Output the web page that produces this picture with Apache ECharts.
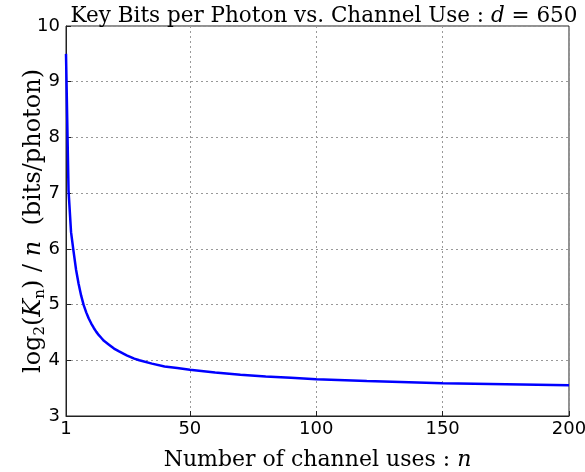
<!DOCTYPE html>
<html>
<head>
<meta charset="utf-8">
<script src="https://cdn.jsdelivr.net/npm/echarts@6/dist/echarts.min.js"></script>
<style>
html,body{margin:0;padding:0;background:#fff;}
#chart{width:585px;height:472px;}
</style>
</head>
<body>
<div id="chart"></div>
<script>
// Channel uses n (x values)
var channelUses = [1, 2, 3, 4, 5, 6, 7, 8, 9, 10, 11, 12, 13, 14, 15, 16, 18, 20, 22, 25, 28, 30, 35, 40, 45, 50, 60, 70, 80, 90, 100, 120, 150, 175, 200];
// log2(K_n)/n in bits/photon
var bitsPerPhoton = [9.50, 7.05, 6.30, 5.95, 5.62, 5.37, 5.16, 4.99, 4.86, 4.75, 4.66, 4.58, 4.51, 4.45, 4.40, 4.35, 4.28, 4.21, 4.16, 4.09, 4.03, 4.00, 3.94, 3.89, 3.86, 3.83, 3.78, 3.74, 3.71, 3.685, 3.66, 3.63, 3.59, 3.57, 3.55];
var xTicks = [1, 50, 100, 150, 200];
var yTicks = [3, 4, 5, 6, 7, 8, 9, 10];

var seriesData = channelUses.map(function (n, i) { return [n, bitsPerPhoton[i]]; });

var chart = echarts.init(document.getElementById('chart'), null, {renderer: 'canvas'});
var serif = 'DejaVu Serif';
var sans = 'DejaVu Sans';
chart.setOption({
  backgroundColor: '#fff',
  animation: false,
  title: {
    text: '{r|Key Bits per Photon vs. Channel Use : }{i|d}{r| = 650}',
    left: 319,
    textAlign: 'center',
    top: 0,
    textStyle: {
      fontWeight: 'normal',
      rich: {
        r: {fontFamily: serif, fontSize: 21.5, fontWeight: 'normal', color: '#000'},
        i: {fontFamily: serif, fontSize: 21.5, fontWeight: 'normal', fontStyle: 'italic', color: '#000'}
      }
    }
  },
  grid: {
    left: 66, right: 16, top: 26, bottom: 56,
    containLabel: false,
    outerBoundsMode: 'none',
    show: true, borderColor: '#222', borderWidth: 1, backgroundColor: '#fff'
  },
  xAxis: {
    type: 'value',
    min: 1, max: 200,
    name: '{r|Number of channel uses : }{i|n}',
    nameLocation: 'middle',
    nameGap: 33,
    nameTextStyle: {
      rich: {
        r: {fontFamily: serif, fontSize: 22, color: '#000'},
        i: {fontFamily: serif, fontSize: 22, fontStyle: 'italic', color: '#000'}
      }
    },
    axisLine: {show: true, lineStyle: {color: '#222', width: 1}},
    axisTick: {show: true, inside: true, length: 5, customValues: xTicks, lineStyle: {color: '#222'}},
    axisLabel: {customValues: xTicks, fontFamily: sans, fontSize: 18, color: '#000', margin: 4},
    splitLine: {show: true, lineStyle: {type: [2, 3], color: '#999', width: 1}}
  },
  yAxis: {
    type: 'value',
    min: 3, max: 10, interval: 1,
    name: '{r|log}{s|2}{r|(}{i|K}{s|n}{r|) / }{i|n}{r|  (bits/photon)}',
    nameLocation: 'middle',
    nameGap: 18,
    nameRotate: 90,
    nameMoveOverlap: false,
    nameTextStyle: {
      rich: {
        r: {fontFamily: serif, fontSize: 24, color: '#000', height: 26},
        i: {fontFamily: serif, fontSize: 24, fontStyle: 'italic', color: '#000', height: 26},
        s: {fontFamily: serif, fontSize: 15, color: '#000', padding: [14, 0, 0, 0]}
      }
    },
    axisLine: {show: true, lineStyle: {color: '#222', width: 1}},
    axisTick: {show: true, inside: true, length: 5, lineStyle: {color: '#222'}},
    axisLabel: {fontFamily: sans, fontSize: 18, color: '#000', margin: 6},
    splitLine: {show: true, lineStyle: {type: [2, 3], color: '#999', width: 1}}
  },
  series: [{
    type: 'line',
    data: seriesData,
    showSymbol: false,
    smooth: false,
    lineStyle: {color: '#0000ff', width: 2.5},
    itemStyle: {color: '#0000ff'}
  }]
});
</script>
</body>
</html>
